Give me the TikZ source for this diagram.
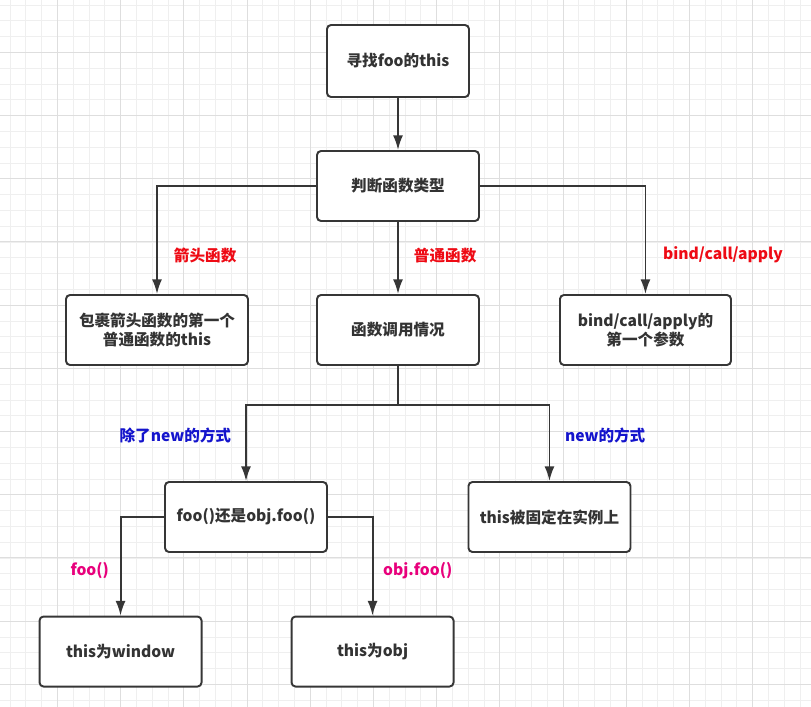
\documentclass[tikz,border=0pt]{standalone}
\usepackage{fontspec}
\setmainfont{Noto Sans CJK SC}
\usetikzlibrary{arrows.meta,positioning}
\definecolor{linegray}{HTML}{363636}
\definecolor{textgray}{HTML}{333333}
\definecolor{labelred}{HTML}{EE0A14}
\definecolor{labelblue}{HTML}{1414CC}
\definecolor{labelpink}{HTML}{E8007C}
\definecolor{gridminor}{HTML}{EFEFEF}
\definecolor{gridmajor}{HTML}{DEDEDE}
\newcommand\blockfont{\fontsize{11.7pt}{13.7pt}\selectfont\bfseries}
\tikzstyle{block} = [draw=linegray, line width=1.45pt, rectangle, rounded corners=3pt, fill=white, text=textgray, minimum height=52.5pt, minimum width=121.5pt, align=center, font=\blockfont]
\tikzstyle{line} = [draw=linegray, line width=1.45pt]
\tikzstyle{redlabel} = [text=labelred, font=\blockfont, inner sep=0pt]
\tikzstyle{bluelabel} = [text=labelblue, font=\blockfont, inner sep=0pt]
\tikzstyle{pinklabel} = [text=labelpink, font=\blockfont, inner sep=0pt]

\begin{document}
\begin{tikzpicture}[>={Latex[length=11pt,width=7.5pt]}]

\useasboundingbox (0,0) rectangle (608.25pt,-530.25pt);
\fill[white] (0,0) rectangle (608.25pt,-530.25pt);

% grid
\foreach \i in {0,...,50}
  \draw[gridminor, line width=0.6pt] ({7.43pt+\i*11.85pt},0) -- ++(0,-530.25pt);
\foreach \i in {0,...,44}
  \draw[gridminor, line width=0.6pt] (0,{-3.68pt-\i*11.85pt}) -- ++(608.25pt,0);
\foreach \i in {0,...,11}
  \draw[gridmajor, line width=0.6pt] ({42.98pt+\i*47.4pt},0) -- ++(0,-530.25pt);
\foreach \i in {0,...,10}
  \draw[gridmajor, line width=0.6pt] (0,{-39.2pt-\i*47.4pt}) -- ++(608.25pt,0);

\node [block, minimum width=106.5pt, minimum height=54pt] (find) at (298.5pt,-45.75pt) {寻找foo的this};
\node [block, below of=find, node distance=93.75pt] (type) {判断函数类型};
\node [block, below of=type, node distance=108pt] (usage) {函数调用情况};
\node [block, left of=usage, node distance=180.75pt, minimum width=136.5pt] (arrow) {包裹箭头函数的第一个\\普通函数的this};
\node [block, right of=usage, node distance=185.6pt, minimum width=128.25pt] (bound) {bind/call/apply的\\第一个参数};

\node [coordinate, below of=usage, node distance=55.9pt] (split) {};
\node [block, below of=usage, xshift=-114pt, node distance=140.25pt] (plain) {foo()还是obj.foo()};
\node [block, right of=plain, node distance=227.6pt] (newcall) {this被固定在实例上};

\node [block, below of=plain, xshift=-94.1pt, node distance=100.9pt] (window) {this为window};
\node [block, right of=window, node distance=189pt] (obj) {this为obj};

\draw [line, ->] (find) -- (type);
\draw [line, ->] (type) -| node[redlabel, right, pos=0.82, xshift=12pt] {箭头函数} (arrow);
\draw [line, ->] (type) -- node[redlabel, right, pos=0.47, xshift=11.25pt] {普通函数} (usage);
\draw [line, ->] (type) -| node[redlabel, right, pos=0.82, xshift=12.5pt] {bind/call/apply} (bound);

\draw [line] (usage) -- (split);
\draw [line, ->] (split) -| node[bluelabel, left, pos=0.705, xshift=-10.5pt] {除了new的方式} (plain);
\draw [line, ->] (split) -| node[bluelabel, right, pos=0.705, xshift=11pt] {new的方式} (newcall);

\draw [line, ->] (plain) -| node[pinklabel, left, pos=0.77, xshift=-8pt] {foo()} (window);
\draw [line, ->] (plain) -| node[pinklabel, right, pos=0.77, xshift=7.3pt] {obj.foo()} (obj);

\end{tikzpicture}
\end{document}
